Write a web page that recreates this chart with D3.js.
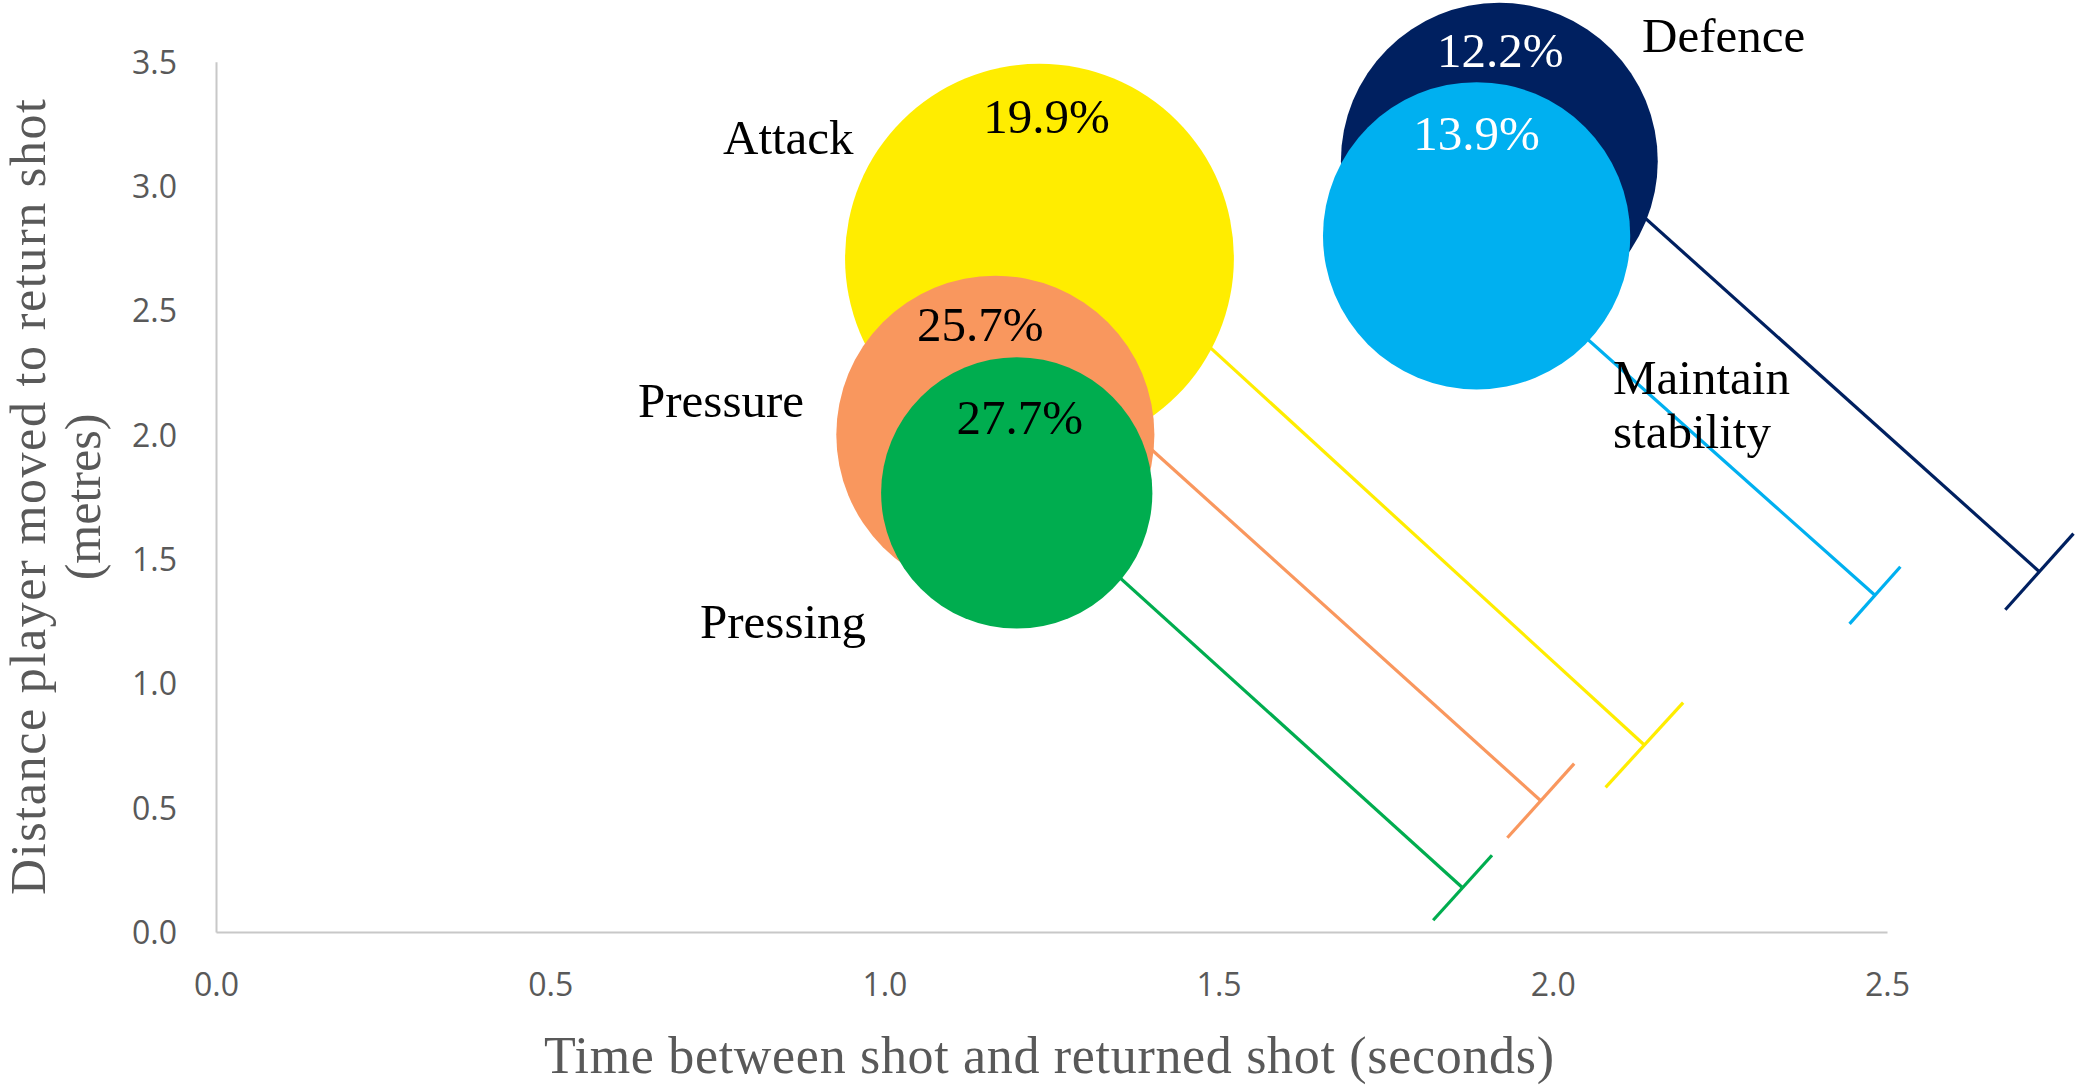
<!DOCTYPE html>
<html><head><meta charset="utf-8">
<script src="https://cdn.jsdelivr.net/npm/d3@7"></script>
<style>body{margin:0;background:#fff}</style>
</head><body><svg id="c" width="2080" height="1088"></svg>
<script>
// ---- data ----
const categories = ["Attack","Pressure","Pressing","Defence","Maintain stability"];
const pctLabels  = ["19.9%","25.7%","27.7%","12.2%","13.9%"];
const timeSec    = [1.232, 1.166, 1.198, 1.920, 1.886];   // x of bubble
const distM      = [2.71, 2.00, 1.766, 3.10, 2.80];       // y of bubble
const bubbleSize = [3.78, 2.53, 1.84, 2.51, 2.36];        // bubble area value
const lineStartY = [2.979, 2.507, 1.800, 3.397, 2.781];   // line start (at bubble x)
const lineEndX   = [2.137, 1.982, 1.865, 2.728, 2.482];
const lineEndY   = [0.752, 0.528, 0.178, 1.449, 1.354];
const capSpreadX = [0.058, 0.050, 0.044, 0.051, 0.038];
const xTicks = [0, 0.5, 1.0, 1.5, 2.0, 2.5];
const yTicks = [0, 0.5, 1.0, 1.5, 2.0, 2.5, 3.0, 3.5];
const xTitle = "Time between shot and returned shot (seconds)";
const yTitle = ["Distance player moved to return shot", "(metres)"];

// ---- style / layout ----
const fills = ["#FFED00", "#F9975E", "#00AD4F", "#002060", "#00B0F0"];
const pctColors = ["#000", "#000", "#000", "#fff", "#fff"];
const drawOrder = [3, 4, 0, 1, 2];
const pctOffset = [[7, 69], [-15, 65], [3, 77], [1, 64], [0, 68]];
const catPos = [[723, 154], [638, 417], [700, 638], [1642, 52], [1613, 394]];
const serif = "'Liberation Serif','Times New Roman',serif";
const sans = "'Open Sans','Noto Sans',sans-serif";

const svg = d3.select("#c");
svg.append("rect").attr("width", 2080).attr("height", 1088).attr("fill", "#fff");

const x = d3.scaleLinear().domain([0, 2.5]).range([216, 1887]);
const y = d3.scaleLinear().domain([0, 3.5]).range([932, 61.7]);
const r = d3.scaleSqrt().domain([0, 4]).range([0, 200]);

// axes
const gx = svg.append("g").attr("transform", `translate(0,${y(0)})`)
  .call(d3.axisBottom(x).tickValues(xTicks).tickFormat(d3.format(".1f")).tickSize(0).tickPadding(0));
const gy = svg.append("g").attr("transform", `translate(${x(0)},0)`)
  .call(d3.axisLeft(y).tickValues(yTicks).tickFormat(d3.format(".1f")).tickSize(0).tickPadding(0));
[gx, gy].forEach(g => {
  g.select(".domain").attr("stroke", "#C8C8C8").attr("stroke-width", 2);
  g.selectAll("text").attr("font-family", sans).attr("font-size", 32).attr("fill", "#595959");
});
gx.selectAll("text").attr("y", 64).attr("dy", 0);
gy.selectAll("text").attr("x", -39).attr("dy", "0.36em");

// lines with caps (behind bubbles)
const idx = d3.range(categories.length);
const lines = svg.append("g");
idx.forEach(i => {
  const x0 = x(timeSec[i]), y0 = y(lineStartY[i]);
  const x1 = x(lineEndX[i]), y1 = y(lineEndY[i]);
  const ux = x1 - x0, uy = y1 - y0;
  const cdx = x(lineEndX[i] + capSpreadX[i]) - x1;
  const cdy = -cdx * ux / uy;
  lines.append("line").attr("x1", x0).attr("y1", y0).attr("x2", x1).attr("y2", y1)
    .attr("stroke", fills[i]).attr("stroke-width", 3.2);
  lines.append("line").attr("x1", x1 - cdx).attr("y1", y1 - cdy).attr("x2", x1 + cdx).attr("y2", y1 + cdy)
    .attr("stroke", fills[i]).attr("stroke-width", 3.2);
});

// bubbles
svg.append("g").selectAll("circle").data(drawOrder).join("circle")
  .attr("cx", i => x(timeSec[i])).attr("cy", i => y(distM[i])).attr("r", i => r(bubbleSize[i]))
  .attr("fill", i => fills[i]);

// percentage labels
svg.append("g").selectAll("text").data(drawOrder).join("text")
  .attr("x", i => x(timeSec[i]) + pctOffset[i][0])
  .attr("y", i => y(distM[i]) - r(bubbleSize[i]) + pctOffset[i][1])
  .attr("text-anchor", "middle").attr("font-family", serif).attr("font-size", 49)
  .attr("fill", i => pctColors[i]).text(i => pctLabels[i]);

// category labels
idx.forEach(i => {
  const words = categories[i] === "Maintain stability" ? ["Maintain", "stability"] : [categories[i]];
  const t = svg.append("text").attr("x", catPos[i][0]).attr("y", catPos[i][1])
    .attr("font-family", serif).attr("font-size", 49).attr("fill", "#000");
  words.forEach((w, k) => t.append("tspan").attr("x", catPos[i][0]).attr("dy", k ? 54 : 0).text(w));
});

// axis titles
svg.append("text").attr("x", 1049).attr("y", 1073).attr("text-anchor", "middle")
  .attr("font-family", serif).attr("font-size", 52).attr("fill", "#595959")
  .attr("textLength", 1010).attr("lengthAdjust", "spacing").text(xTitle);
const yt = svg.append("g").attr("transform", "translate(0,497) rotate(-90)");
yt.append("text").attr("x", 0).attr("y", 45).attr("text-anchor", "middle")
  .attr("font-family", serif).attr("font-size", 50).attr("fill", "#595959")
  .attr("textLength", 796).attr("lengthAdjust", "spacing").text(yTitle[0]);
yt.append("text").attr("x", 0).attr("y", 100).attr("text-anchor", "middle")
  .attr("font-family", serif).attr("font-size", 50).attr("fill", "#595959").text(yTitle[1]);
</script>
</body></html>
